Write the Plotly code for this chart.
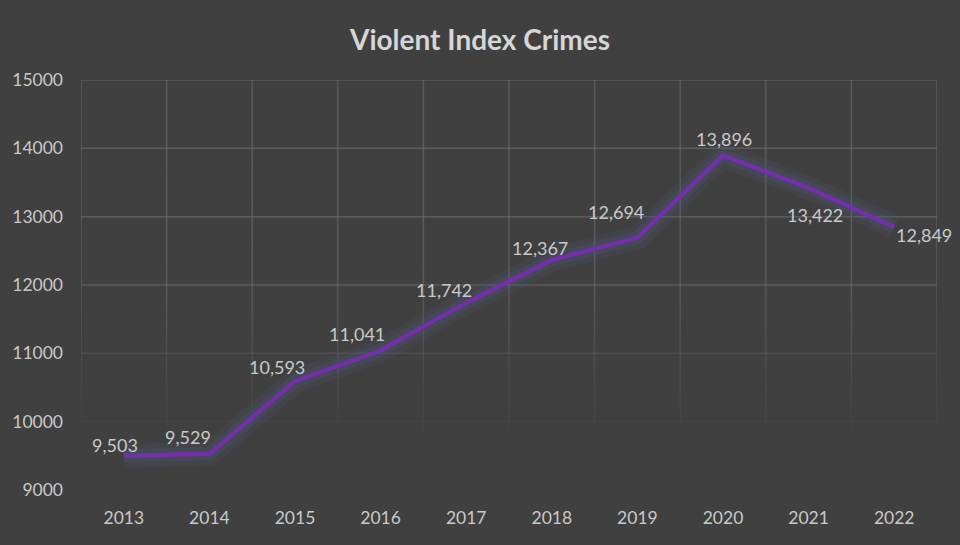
import plotly.graph_objects as go

years = ["2013", "2014", "2015", "2016", "2017", "2018", "2019", "2020", "2021", "2022"]
crimes = [9503, 9529, 10593, 11041, 11742, 12367, 12694, 13896, 13422, 12849]
y_ticks = [9000, 10000, 11000, 12000, 13000, 14000, 15000]

# label offsets (pixels) relative to each point
label_dx = [-9, -21, -18, -24, -22, -12, -21, 1, 6, 30]
label_dy = [11, 17, 14, 17, 13, 12, 26, 16, -27, -8]

BG = "#404040"
TXT = "#c9c9c9"
FONT = "Lato, Open Sans, sans-serif"

x_idx = list(range(len(years)))

fig = go.Figure()

# glow layers
fig.add_trace(go.Scatter(x=x_idx, y=crimes, mode="lines",
                         line=dict(color="rgba(75,90,130,0.14)", width=24),
                         hoverinfo="skip", showlegend=False))
fig.add_trace(go.Scatter(x=x_idx, y=crimes, mode="lines",
                         line=dict(color="rgba(80,95,140,0.20)", width=13),
                         hoverinfo="skip", showlegend=False))
fig.add_trace(go.Scatter(x=x_idx, y=crimes, mode="lines",
                         line=dict(color="#7330a8", width=4.5),
                         hoverinfo="skip", showlegend=False))

# fading gridlines
def grid_alpha(v):
    a = (v - 9600) / 2600.0
    return max(0.0, min(1.0, a))

shapes = []
ymin, ymax = y_ticks[0], y_ticks[-1]
for v in y_ticks:
    a = grid_alpha(v)
    if a <= 0:
        continue
    shapes.append(dict(type="line", xref="x", yref="y", x0=-0.5, x1=len(years) - 0.5,
                       y0=v, y1=v, layer="below",
                       line=dict(color=f"rgba(125,125,125,{0.45 * a:.3f})", width=1.5)))
step = 100
for i in range(len(years) + 1):
    xv = i - 0.5
    v = ymin
    while v < ymax:
        a = grid_alpha(v + step / 2)
        if a > 0:
            shapes.append(dict(type="line", xref="x", yref="y", x0=xv, x1=xv,
                               y0=v, y1=v + step, layer="below",
                               line=dict(color=f"rgba(125,125,125,{0.45 * a:.3f})", width=1.5)))
        v += step

annotations = []
for i, (yr, val) in enumerate(zip(years, crimes)):
    annotations.append(dict(x=i, y=val, xref="x", yref="y", text=f"{val:,}",
                            showarrow=False, xshift=label_dx[i], yshift=label_dy[i],
                            font=dict(family=FONT, size=18, color=TXT)))

fig.update_layout(
    width=960, height=545,
    paper_bgcolor=BG, plot_bgcolor=BG,
    margin=dict(l=81, r=23, t=80, b=55),
    title=dict(text="<b>Violent Index Crimes</b>", x=0.5, xanchor="center",
               y=0.927, yanchor="middle",
               font=dict(family=FONT, size=28, color="#d6d6d6")),
    shapes=shapes,
    annotations=annotations,
    showlegend=False,
    xaxis=dict(range=[-0.5, len(years) - 0.5], tickmode="array", tickvals=x_idx,
               ticktext=years, showgrid=False, zeroline=False, showline=False,
               ticks="", ticklabelstandoff=15,
               tickfont=dict(family=FONT, size=17.5, color=TXT), fixedrange=True),
    yaxis=dict(range=[ymin, ymax], tickmode="array", tickvals=y_ticks,
               ticktext=[str(v) for v in y_ticks], showgrid=False, zeroline=False,
               showline=False, ticks="", ticklabelstandoff=17,
               tickfont=dict(family=FONT, size=17.5, color=TXT), fixedrange=True),
)

fig.write_html("out.html")
